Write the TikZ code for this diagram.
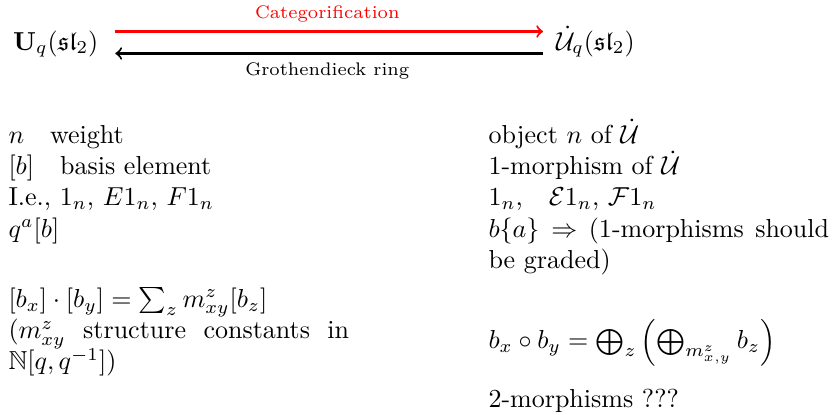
\documentclass[tikz,border=0pt]{standalone}
\usepackage{amsmath,amssymb}
\usepackage{tikz}
\definecolor{catred}{RGB}{255, 0, 0}

\begin{document}
\begin{tikzpicture}[x=0.3846pt, y=-0.3846pt,
    algebra/.style={anchor=base west},
    column/.style={anchor=north west, inner sep=0pt, text width=131pt, align=justify},
    link/.style={thick, ->}]
    \useasboundingbox (0,0) rectangle (832,414);

    % Algebra and its categorification
    \node[algebra] (Uq) at (4,50) {$\mathbf{U}_q(\mathfrak{sl}_2)$};
    \node[algebra] (Uqdot) at (547,50) {$\dot{\mathcal{U}}_q(\mathfrak{sl}_2)$};
    \draw[link, catred, shorten <=3pt, shorten >=1.5pt] ([yshift=4.8pt]Uq.east) -- node[above, font=\scriptsize] (cat) {Categorification} ([yshift=4.8pt]Uq.east -| Uqdot.west);
    \draw[link, shorten <=1.5pt, shorten >=3pt] ([yshift=-3.65pt]Uq.east -| Uqdot.west) -- node[below, font=\scriptsize] (groth) {Grothendieck ring} ([yshift=-3.65pt]Uq.east);

    % Dictionary
    \node[column] (decat) at (8,125) {%
        $n$\quad weight\\
        $[b]$\quad basis element\\
        I.e., $1_n$, $E1_n$, $F1_n$\\
        $q^a[b]$\\[15pt]
        $[b_x]\cdot[b_y]=\sum_z m^z_{xy}[b_z]$\\
        ($m^z_{xy}$ structure constants in\linebreak $\mathbb{N}[q,q^{-1}]$)};
    \node[column] (categ) at (488,119) {%
        object $n$ of $\dot{\mathcal{U}}$\\
        1-morphism of $\dot{\mathcal{U}}$\\
        $1_n$,\quad $\mathcal{E}1_n$, $\mathcal{F}1_n$\\
        $b\{a\} \Rightarrow$ (1-morphisms should\linebreak be graded)\\[16pt]
        $b_x \circ b_y = \bigoplus_z \left(\bigoplus_{m^z_{x,y}} b_z\right)$\\[8pt]
        2-morphisms ???};
\end{tikzpicture}
\end{document}
